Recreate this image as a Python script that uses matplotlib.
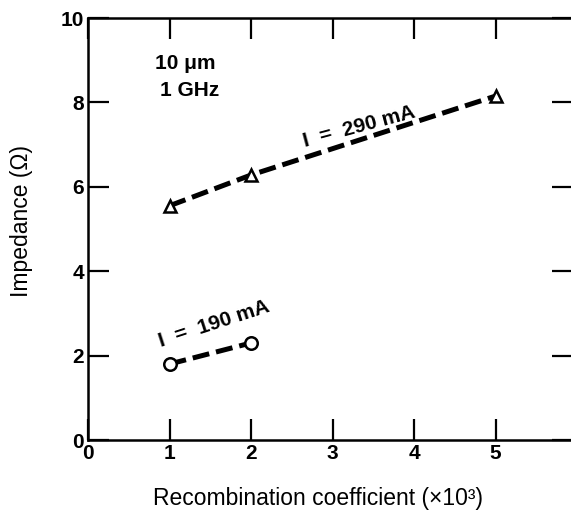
import matplotlib.pyplot as plt

# data
x_290 = [1, 2, 5]
z_290 = [5.55, 6.28, 8.15]
x_190 = [1, 2]
z_190 = [1.8, 2.3]

x_ticks = [0, 1, 2, 3, 4, 5]
y_ticks = [0, 2, 4, 6, 8, 10]

plt.rcParams["font.family"] = ["Liberation Sans", "DejaVu Sans"]

W, H = 571, 513
fig = plt.figure(figsize=(W / 100, H / 100), dpi=100)
# axes right edge sits just past the picture edge, as in the scan
left, right, top, bottom = 88, 573, 18, 440
ax = fig.add_axes([left / W, 1 - bottom / H, (right - left) / W, (bottom - top) / H])

line_kw = dict(color="black", linestyle=(0, (3.4, 1.4)), linewidth=3.6,
               markersize=9, markerfacecolor="white", markeredgewidth=1.8)
ax.plot(x_290, z_290, marker="^", **line_kw)
ax.plot(x_190, z_190, marker="o", **line_kw)

ax.set_xlim(0, 5.95)
ax.set_ylim(0, 10)
ax.set_xticks(x_ticks)
ax.set_yticks(y_ticks)
ax.tick_params(direction="in", length=15, width=1.6, labelsize=15,
               top=True, right=True, pad=3)
for lbl in ax.get_xticklabels() + ax.get_yticklabels():
    lbl.set_fontweight("bold")
for sp in ax.spines.values():
    sp.set_linewidth(1.8)

ax.set_xlabel("Recombination coefficient (\u00d710\u00b3)", fontsize=16.5)
ax.set_ylabel("Impedance (\u03a9)", fontsize=16.5)
ax.xaxis.set_label_coords(0.475, -0.112)
ax.yaxis.set_label_coords(-0.113, 0.52)

ax.text(0.82, 8.93, "10 \u03bcm", fontsize=15, fontweight="bold",
        ha="left", va="center")
ax.text(0.88, 8.29, "1 GHz", fontsize=15, fontweight="bold",
        ha="left", va="center")
ax.text(3.33, 7.42, "I  =  290 mA", fontsize=15, fontweight="bold",
        rotation=15, ha="center", va="center")
ax.text(1.55, 2.74, "I  =  190 mA", fontsize=15, fontweight="bold",
        rotation=18, ha="center", va="center")

fig.savefig("out.png", dpi=100)
